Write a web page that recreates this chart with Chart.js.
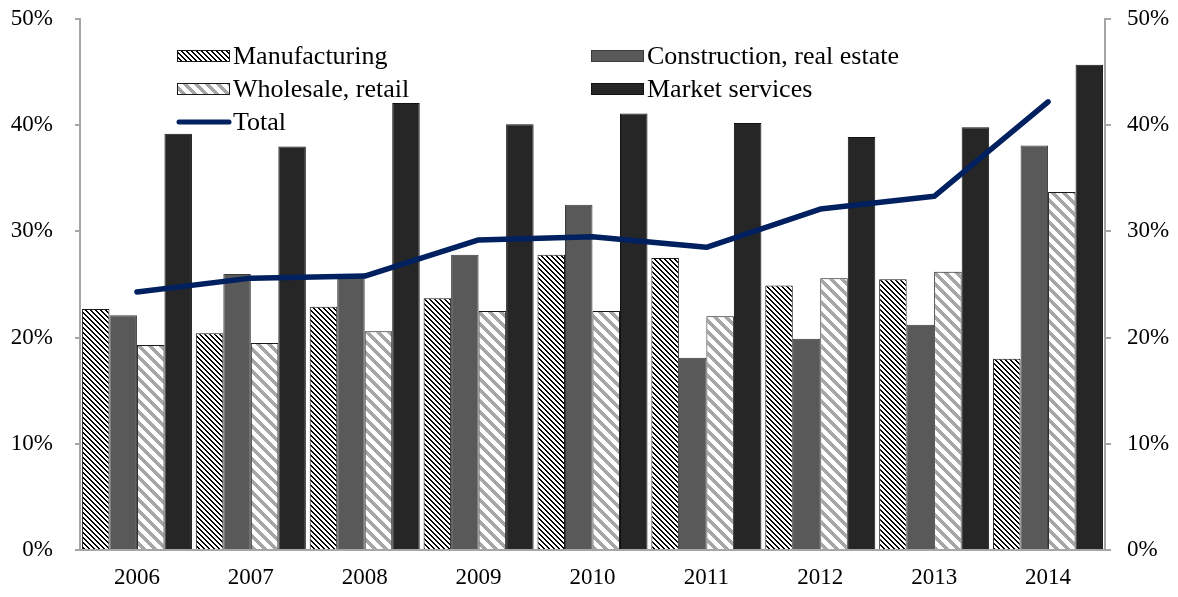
<!DOCTYPE html>
<html>
<head>
<meta charset="utf-8">
<script src="https://cdn.jsdelivr.net/npm/chart.js@4.4.1/dist/chart.umd.min.js"></script>
<style>
  body { margin: 0; background: #fff; }
  #wrap { width: 1178px; height: 597px; position: relative; }
</style>
</head>
<body>
<div id="wrap"><canvas id="chart"></canvas></div>
<script>
// shares by sector, in percent
const years = ['2006', '2007', '2008', '2009', '2010', '2011', '2012', '2013', '2014'];
const manufacturing = [22.7, 20.4, 22.9, 23.7, 27.8, 27.5, 24.9, 25.5, 18.0];
const construction  = [22.1, 26.0, 26.0, 27.8, 32.5, 18.1, 19.9, 21.2, 38.1];
const wholesale     = [19.3, 19.5, 20.6, 22.5, 22.5, 22.0, 25.6, 26.2, 33.7];
const marketServ    = [39.2, 38.0, 42.1, 40.1, 41.1, 40.2, 38.9, 39.8, 45.7];
const total         = [24.3, 25.6, 25.8, 29.2, 29.5, 28.5, 32.1, 33.3, 42.2];
const yTicks = [0, 10, 20, 30, 40, 50];

const SERIF = "'Liberation Serif', 'Times New Roman', serif";
const AXIS_GRAY = '#a6a6a6';
const NAVY = '#002060';

// fine black downward hatch
function denseHatch() {
  const n = 5;
  const c = document.createElement('canvas');
  c.width = n; c.height = n;
  const g = c.getContext('2d');
  g.fillStyle = '#fff';
  g.fillRect(0, 0, n, n);
  g.fillStyle = '#000';
  for (let i = 0; i < n; i++) {
    g.fillRect(i, i, 1, 1);
    g.fillRect((i + 1) % n, i, 1, 1);
  }
  return g.createPattern(c, 'repeat');
}

// wide grey downward stripes
function wideStripes() {
  const n = 11;
  const c = document.createElement('canvas');
  c.width = n; c.height = n;
  const g = c.getContext('2d');
  g.fillStyle = '#fff';
  g.fillRect(0, 0, n, n);
  g.fillStyle = AXIS_GRAY;
  for (let i = 0; i < n; i++) {
    for (let k = 0; k < 5; k++) g.fillRect((i + k) % n, i, 1, 1);
  }
  return g.createPattern(c, 'repeat');
}

// two column legend in the top left of the plot
const legendGrid = {
  id: 'legendGrid',
  afterDatasetsDraw(chart) {
    const ctx = chart.ctx;
    const slots = [
      { ds: 0, x: 177, y: 56 },
      { ds: 1, x: 591, y: 56 },
      { ds: 2, x: 177, y: 89 },
      { ds: 3, x: 591, y: 89 },
      { ds: 4, x: 177, y: 122 }
    ];
    ctx.save();
    ctx.font = '26px ' + SERIF;
    ctx.textBaseline = 'middle';
    slots.forEach(s => {
      const d = chart.data.datasets[s.ds];
      if (d.type === 'line') {
        ctx.strokeStyle = d.borderColor;
        ctx.lineWidth = 5;
        ctx.lineCap = 'round';
        ctx.beginPath();
        ctx.moveTo(s.x + 2, s.y);
        ctx.lineTo(s.x + 52, s.y);
        ctx.stroke();
      } else {
        ctx.fillStyle = d.backgroundColor;
        ctx.fillRect(s.x, s.y - 6, 53, 12);
        ctx.strokeStyle = d.borderColor;
        ctx.lineWidth = 1;
        ctx.strokeRect(s.x + 0.5, s.y - 5.5, 52, 11);
      }
      ctx.fillStyle = '#000';
      ctx.fillText(d.label, s.x + 56, s.y + 1);
    });
    ctx.restore();
  }
};

function yAxis(pos, width, pad, tl) {
  return {
    position: pos,
    min: 0,
    max: 50,
    afterBuildTicks: s => { s.ticks = yTicks.map(v => ({ value: v })); },
    afterFit: s => {
      s.width = width;
      s.paddingTop = 0;
      s.paddingBottom = 0;
    },
    ticks: {
      padding: pad,
      color: '#000',
      font: { family: SERIF, size: 23 },
      callback: v => v + '%'
    },
    grid: { drawOnChartArea: false, tickLength: tl, color: AXIS_GRAY, lineWidth: 2 },
    border: { color: AXIS_GRAY, width: 2 }
  };
}

const barBase = { type: 'bar', borderWidth: 1, order: 1, yAxisID: 'y' };

new Chart(document.getElementById('chart'), {
  data: {
    labels: years,
    datasets: [
      Object.assign({}, barBase, { label: 'Manufacturing', data: manufacturing, backgroundColor: denseHatch(), borderColor: '#1a1a1a' }),
      Object.assign({}, barBase, { label: 'Construction, real estate', data: construction, backgroundColor: '#595959', borderColor: '#3a3a3a' }),
      Object.assign({}, barBase, { label: 'Wholesale, retail', data: wholesale, backgroundColor: wideStripes(), borderColor: '#1a1a1a' }),
      Object.assign({}, barBase, { label: 'Market services', data: marketServ, backgroundColor: '#262626', borderColor: '#111' }),
      {
        type: 'line', label: 'Total', data: total, order: 0, yAxisID: 'y',
        borderColor: NAVY, borderWidth: 5.5, pointRadius: 0, tension: 0,
        borderCapStyle: 'round', borderJoinStyle: 'round', fill: false
      }
    ]
  },
  options: {
    responsive: true,
    maintainAspectRatio: false,
    animation: false,
    layout: { padding: { top: 19, left: 0, right: 0, bottom: 0 } },
    datasets: { bar: { categoryPercentage: 0.966, barPercentage: 1.0 } },
    plugins: { legend: { display: false }, tooltip: { enabled: false } },
    scales: {
      x: {
        afterFit: s => {
          s.height = 47;
          s.paddingLeft = 0;
          s.paddingRight = 0;
        },
        ticks: { padding: 14, color: '#000', font: { family: SERIF, size: 23 } },
        grid: { drawOnChartArea: false, drawTicks: false, color: AXIS_GRAY },
        border: { color: AXIS_GRAY, width: 2 }
      },
      y: yAxis('left', 80, 22, 5),
      y2: yAxis('right', 73, 16, 6)
    }
  },
  plugins: [legendGrid]
});
</script>
</body>
</html>
